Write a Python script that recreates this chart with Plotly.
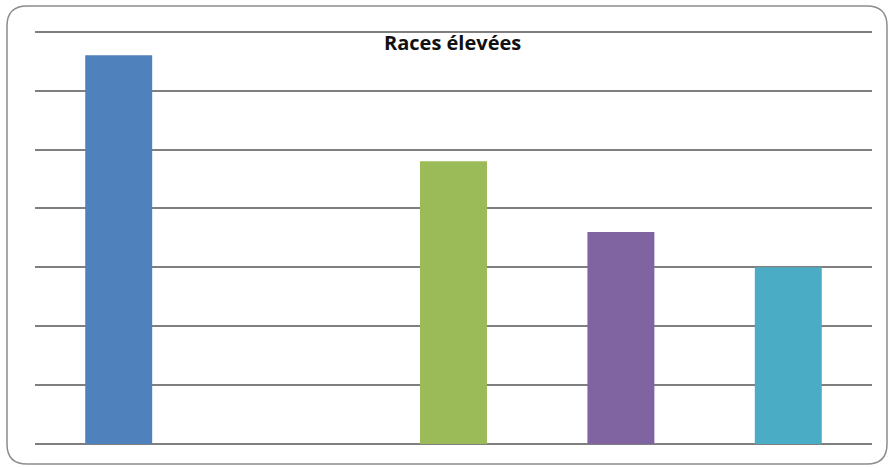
import plotly.graph_objects as go

# Breeds raised and their share
categories = ["A", "B", "C", "D", "E"]
values = [33, 0, 24, 18, 15]
colors = ["#4f81bd", "#c0504d", "#9bbb59", "#8064a2", "#4bacc6"]

title = "Races élevées"

W, H = 889, 468
L, R, T, B = 35, 17, 20, 24
Y_MAX = 36

fig = go.Figure(
    go.Bar(
        x=categories,
        y=values,
        marker=dict(color=colors, line=dict(width=0)),
        width=0.4,
    )
)

# convert pixel positions to paper coordinates for the outer frame
pw, ph = W - L - R, H - T - B


def px(x):
    return (x - L) / pw


def py(y):
    return (H - B - y) / ph


x0, x1, y0, y1, r = 7, 887, 6, 464, 20
path = (
    f"M {px(x0 + r)} {py(y0)} L {px(x1 - r)} {py(y0)} "
    f"Q {px(x1)} {py(y0)} {px(x1)} {py(y0 + r)} "
    f"L {px(x1)} {py(y1 - r)} Q {px(x1)} {py(y1)} {px(x1 - r)} {py(y1)} "
    f"L {px(x0 + r)} {py(y1)} Q {px(x0)} {py(y1)} {px(x0)} {py(y1 - r)} "
    f"L {px(x0)} {py(y0 + r)} Q {px(x0)} {py(y0)} {px(x0 + r)} {py(y0)} Z"
)

fig.add_shape(
    type="path",
    path=path,
    xref="paper",
    yref="paper",
    line=dict(color="#8c8c8c", width=1.5),
    layer="below",
)

fig.add_annotation(
    text=f"<b>{title}</b>",
    xref="paper",
    yref="paper",
    x=px(452),
    y=py(43),
    yanchor="middle",
    xanchor="center",
    showarrow=False,
    font=dict(family="Open Sans, Liberation Sans, sans-serif", size=20, color="#111111"),
)

fig.update_layout(
    width=W,
    height=H,
    margin=dict(l=L, r=R, t=T, b=B),
    paper_bgcolor="white",
    plot_bgcolor="white",
    showlegend=False,
)
fig.update_xaxes(showticklabels=False, ticks="", showgrid=False, showline=False, zeroline=False)
fig.update_yaxes(
    range=[0, Y_MAX],
    tickvals=[0, 5, 10, 15, 20, 25, 30, 35],
    showticklabels=False,
    ticks="",
    showgrid=True,
    gridcolor="#7f7f7f",
    gridwidth=2,
    zeroline=True,
    zerolinecolor="#7f7f7f",
    zerolinewidth=2,
    showline=False,
)

fig.write_html("out.html")
